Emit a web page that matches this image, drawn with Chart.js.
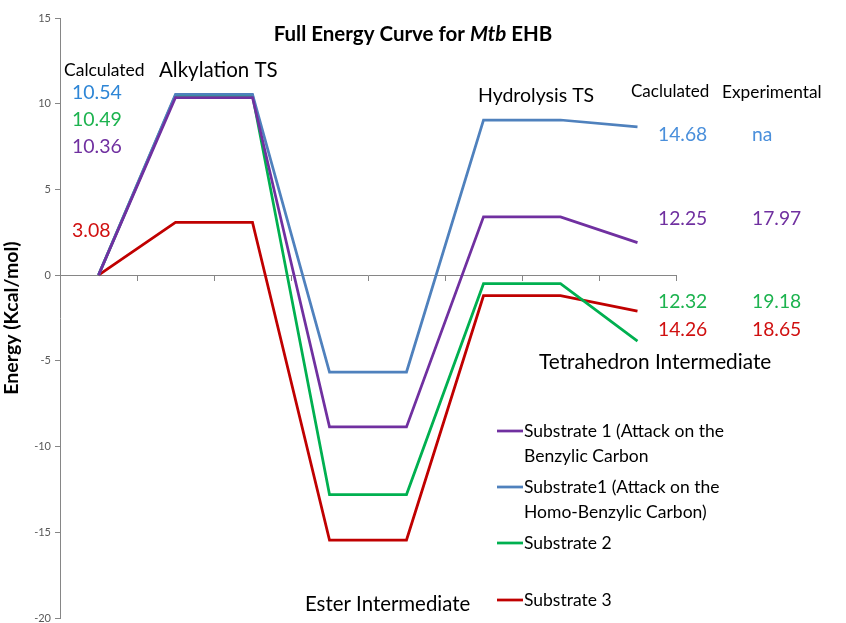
<!DOCTYPE html>
<html>
<head>
<meta charset="utf-8">
<script src="https://cdn.jsdelivr.net/npm/chart.js@4.4.1/dist/chart.umd.min.js"></script>
<style>
  html, body { margin: 0; padding: 0; background: #fff; }
  #wrap { width: 846px; height: 623px; }
</style>
</head>
<body>
<div id="wrap"><canvas id="myChart" width="846" height="623"></canvas></div>
<script>
// reaction steps (no labels shown on the axis)
const steps = ['Start', 'Alkylation TS', 'Alkylation TS ', 'Ester Intermediate', 'Ester Intermediate ', 'Hydrolysis TS', 'Hydrolysis TS ', 'Tetrahedron Intermediate'];

// energies in Kcal/mol
const substrate1Benzylic = [0, 10.36, 10.36, -8.85, -8.85, 3.4, 3.4, 1.9];
const substrate1Homo     = [0, 10.54, 10.54, -5.65, -5.65, 9.05, 9.05, 8.65];
const substrate2         = [0, 10.49, 10.49, -12.8, -12.8, -0.5, -0.5, -3.85];
const substrate3         = [0, 3.08, 3.08, -15.45, -15.45, -1.2, -1.2, -2.1];

const yTicks = [-20, -15, -10, -5, 0, 5, 10, 15];

const FONT = 'Lato, "Open Sans", sans-serif';

const colors = {
  purple: '#7030A0',
  blue: '#4F81BD',
  green: '#00B050',
  red: '#C00000'
};

// text notes on the chart: [text, x, y, color, size]
const notes = [
  ['Calculated', 64, 70, '#000', 17.5],
  ['Alkylation TS', 159, 70, '#000', 20.5],
  ['10.54', 72, 93, '#2E86D6', 19.5],
  ['10.49', 72, 120, '#1DB34F', 19.5],
  ['10.36', 72, 147, '#7030A0', 19.5],
  ['3.08', 72, 231, '#D01010', 19.5],
  ['Hydrolysis TS', 478, 96, '#000', 19.5],
  ['Caclulated', 631, 92, '#000', 17],
  ['Experimental', 722, 92, '#000', 17.3],
  ['14.68', 658, 135, '#4A8FDB', 19.3],
  ['na', 752, 135, '#4A8FDB', 19.3],
  ['12.25', 658, 219, '#7030A0', 19.3],
  ['17.97', 752, 219, '#7030A0', 19.3],
  ['12.32', 658, 302, '#1DB34F', 19.3],
  ['19.18', 752, 302, '#1DB34F', 19.3],
  ['14.26', 658, 330, '#D01010', 19.3],
  ['18.65', 752, 330, '#D01010', 19.3],
  ['Tetrahedron Intermediate', 539, 362, '#000', 20.8],
  ['Ester Intermediate', 305, 604, '#000', 20.4]
];

const notesPlugin = {
  id: 'notes',
  afterDraw(chart) {
    const c = chart.ctx;
    c.save();
    c.textBaseline = 'middle';
    c.textAlign = 'left';
    notes.forEach(n => {
      c.font = n[4] + 'px ' + FONT;
      c.fillStyle = n[3];
      c.fillText(n[0], n[1], n[2]);
    });

    // title with italic Mtb
    const parts = [['Full Energy Curve for ', 'bold'], ['Mtb', 'italic bold'], [' EHB', 'bold']];
    const tsize = 20.5;
    let total = 0;
    parts.forEach(p => { c.font = p[1] + ' ' + tsize + 'px ' + FONT; total += c.measureText(p[0]).width; });
    let x = 413 - total / 2;
    c.fillStyle = '#000';
    parts.forEach(p => {
      c.font = p[1] + ' ' + tsize + 'px ' + FONT;
      c.fillText(p[0], x, 34);
      x += c.measureText(p[0]).width;
    });

    // legend
    const legendY = [431, 487, 543, 600];
    c.font = '17.5px ' + FONT;
    chart.data.datasets.forEach((ds, i) => {
      const y = legendY[i];
      c.strokeStyle = ds.borderColor;
      c.lineWidth = 2.75;
      c.beginPath();
      c.moveTo(497, y);
      c.lineTo(523, y);
      c.stroke();
      c.fillStyle = '#000';
      ds.label.split('\n').forEach((line, k) => {
        c.fillText(line, 524, y + k * 25);
      });
    });
    c.restore();
  }
};

function line(label, data, color) {
  return {
    label: label,
    data: data,
    borderColor: color,
    backgroundColor: color,
    borderWidth: 2.75,
    pointRadius: 0,
    tension: 0,
    fill: false
  };
}

const ctx = document.getElementById('myChart');
const chart = new Chart(ctx, {
  type: 'line',
  data: {
    labels: steps,
    datasets: [
      line('Substrate 1 (Attack on the\nBenzylic Carbon', substrate1Benzylic, colors.purple),
      line('Substrate1 (Attack on the\nHomo-Benzylic Carbon)', substrate1Homo, colors.blue),
      line('Substrate 2', substrate2, colors.green),
      line('Substrate 3', substrate3, colors.red)
    ]
  },
  options: {
    responsive: false,
    animation: false,
    layout: { padding: { left: 0, right: 170, top: 18, bottom: 5 } },
    plugins: {
      legend: { display: false },
      title: { display: false },
      tooltip: { enabled: false }
    },
    scales: {
      x: {
        type: 'category',
        offset: true,
        position: { y: 0 },
        grid: {
          offset: true,
          drawOnChartArea: false,
          drawTicks: true,
          tickLength: 5,
          color: '#868686'
        },
        border: { color: '#868686', width: 1 },
        ticks: { display: false }
      },
      y: {
        min: -20,
        max: 15,
        afterBuildTicks(scale) {
          scale.ticks = yTicks.map(v => ({ value: v }));
        },
        afterFit(scale) {
          scale.width = 60;
          // let the end labels overflow like the original
          scale.paddingTop = 0;
          scale.paddingBottom = 0;
        },
        grid: {
          drawOnChartArea: false,
          drawTicks: true,
          tickLength: 5,
          color: '#868686'
        },
        border: { color: '#868686', width: 1 },
        ticks: {
          color: '#595959',
          font: { family: FONT, size: 11 },
          padding: 4
        },
        title: {
          display: true,
          text: 'Energy (Kcal/mol)',
          color: '#000',
          font: { family: FONT, size: 19.5, weight: 'bold' },
          padding: { top: 0, bottom: 0 }
        }
      }
    }
  },
  plugins: [notesPlugin]
});
</script>
</body>
</html>
